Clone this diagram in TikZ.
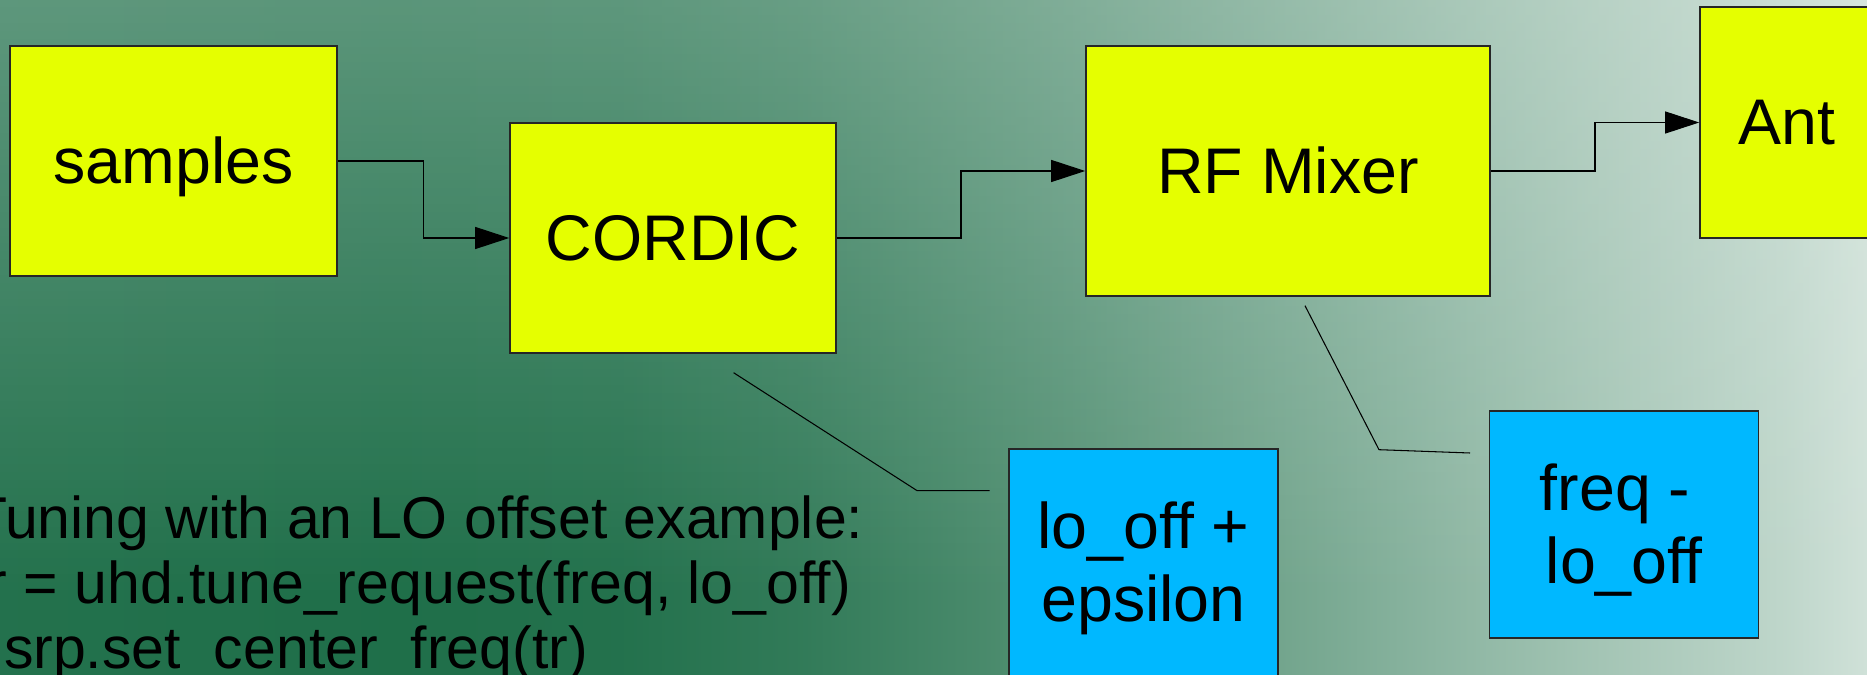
\documentclass[tikz,border=0pt]{standalone}
\usepackage{fontspec}
\setmainfont{Liberation Sans}
\usetikzlibrary{arrows.meta,fadings,calc}

% background greens: dark core, pale highlight
\definecolor{bgD}{RGB}{27,108,70}
\definecolor{bgL}{RGB}{232,241,236}
\colorlet{bgA}{bgL!4!bgD}
\colorlet{bgB}{bgL!2!bgD}
\colorlet{bgC}{bgL!11!bgD}
\colorlet{bgE}{bgL!28!bgD}
\colorlet{bgF}{bgL!45!bgD}
\colorlet{bgG}{bgL!63!bgD}
\colorlet{bgH}{bgL!80!bgD}
\colorlet{bgI}{bgL!88!bgD}
\definecolor{boxyellow}{RGB}{229,255,0}
\definecolor{boxblue}{RGB}{0,184,255}

% left-to-right brightening of the backdrop (page spans 25bp..75bp)
\pgfdeclarehorizontalshading{bgbase}{100bp}{%
  color(0bp)=(bgA); color(25bp)=(bgA); color(35.71bp)=(bgB);
  color(41.6bp)=(bgA); color(46.42bp)=(bgC); color(53.71bp)=(bgE);
  color(60.08bp)=(bgF); color(66.46bp)=(bgG); color(72.83bp)=(bgH);
  color(75bp)=(bgI); color(100bp)=(bgI)}
% pale glow coming down from the top edge
\tikzfading[name=glowdown, top color=transparent!70, bottom color=transparent!100]

% line strut using the font's ascent and descent
\newcommand\lnstrut{\rule[-0.212em]{0pt}{1.117em}}
\newcommand\codestrut{\rule[-0.15em]{0pt}{0.95em}}

\begin{document}
\begin{tikzpicture}[
  block/.style={draw=black!85, line width=0.45pt, inner sep=0pt, align=center,
    font=\fontsize{18.35pt}{20.63pt}\selectfont},
  yblock/.style={block, fill=boxyellow},
  bblock/.style={block, fill=boxblue},
  arr/.style={line width=0.3pt, -{Triangle[length=3.4mm,width=2.2mm]}},
  callout/.style={line width=0.3pt}
]
\useasboundingbox (0,0) rectangle (18.67,6.75);
\begin{scope}
\clip (0,0) rectangle (18.67,6.75);
\shade[shading=bgbase] (0,0) rectangle (18.67,6.75);
\fill[bgL, path fading=glowdown] (0,0.75) rectangle (18.67,6.75);

% signal chain
\node[yblock, minimum width=3.27cm, minimum height=2.30cm] (samples) at (1.735,5.14) {\lnstrut samples};
\node[yblock, minimum width=3.26cm, minimum height=2.30cm] (cordic) at (6.73,4.37) {\lnstrut CORDIC};
\node[yblock, minimum width=4.04cm, minimum height=2.50cm] (mixer) at (12.88,5.04) {\lnstrut RF Mixer};
\node[yblock, minimum width=1.74cm, minimum height=2.31cm] (ant) at (17.87,5.525) {\lnstrut Ant};

% frequency annotations
\node[bblock, minimum width=2.69cm, minimum height=2.27cm] (eps) at (11.435,1.125)
  {\lnstrut lo\_off +\\\lnstrut epsilon};
\node[bblock, minimum width=2.69cm, minimum height=2.27cm] (freq) at (16.24,1.505)
  {\lnstrut freq -\makebox[0.278em]{}\\\lnstrut lo\_off};

\draw[arr] (samples.east) -| ($(samples.east)!.5!(cordic.west)$) |- (cordic.west);
\draw[arr] (cordic.east) -| ($(cordic.east)!.5!(mixer.west)$) |- (mixer.west);
\draw[arr] (mixer.east) -| ($(mixer.east)!.5!(ant.west)$) |- (ant.west);

% callout leaders
\coordinate (c1a) at (7.336,3.023);
\coordinate (c1b) at (9.17,1.844);
\coordinate (c1c) at (9.895,1.844);
\draw[callout] (c1a) -- (c1b) -- (c1c);
\coordinate (c2a) at (13.05,3.693);
\coordinate (c2b) at (13.79,2.253);
\coordinate (c2c) at (14.70,2.22);
\draw[callout] (c2a) -- (c2b) -- (c2c);

% code example
\node[anchor=north west, inner sep=0pt, align=left,
  font=\fontsize{16.79pt}{18.49pt}\selectfont] (code) at (-0.295,1.842)
  {\codestrut Tuning with an LO offset example:\\
   \codestrut tr = uhd.tune\_request(freq, lo\_off)\\
   \codestrut usrp.set\_center\_freq(tr)};
\end{scope}
\end{tikzpicture}
\end{document}
